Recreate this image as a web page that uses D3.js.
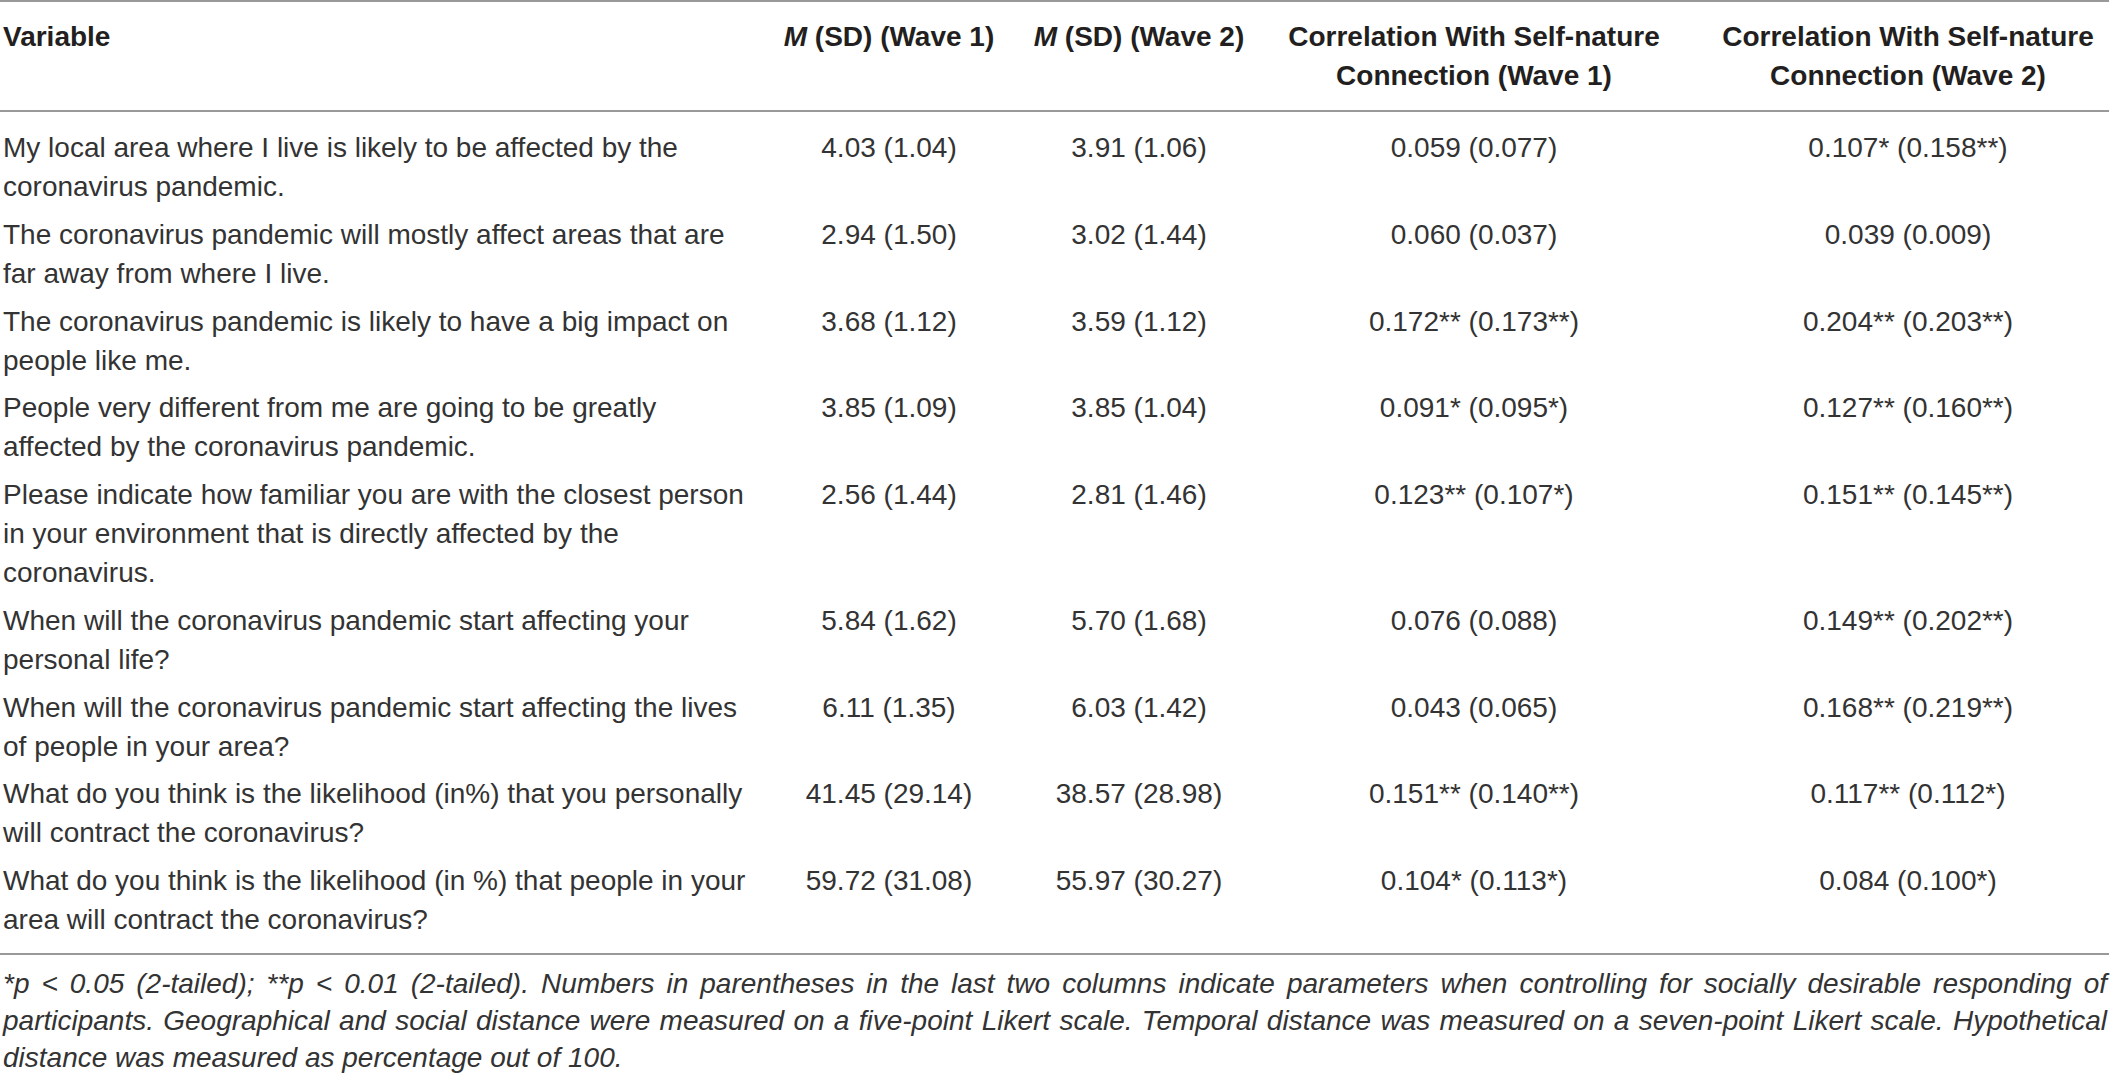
<!DOCTYPE html>
<html lang="en">
<head>
<meta charset="UTF-8">
<title>Psychological distance and self-nature connection</title>
<script src="https://d3js.org/d3.v7.min.js"></script>
<style>
  body { margin: 0; background: #fff; }
  svg { display: block; font-family: "Liberation Sans", Arial, Helvetica, sans-serif; }
  .cell { font-size: 28px; fill: #333; }
  .head { font-size: 28px; font-weight: bold; fill: #231f20; }
  .note { font-size: 28px; font-style: italic; fill: #333; }
  .rule { stroke: #999; stroke-width: 2; }
</style>
</head>
<body>
<svg id="chart"></svg>
<script>
const width = 2112;
const height = 1074;

// column headers (one array of lines per column)
const headers = [
  ["Variable"],
  ["M (SD) (Wave 1)"],
  ["M (SD) (Wave 2)"],
  ["Correlation With Self-nature", "Connection (Wave 1)"],
  ["Correlation With Self-nature", "Connection (Wave 2)"]
];

// item wording, as it wraps in the table
const variables = [
  ["My local area where I live is likely to be affected by the", "coronavirus pandemic."],
  ["The coronavirus pandemic will mostly affect areas that are", "far away from where I live."],
  ["The coronavirus pandemic is likely to have a big impact on", "people like me."],
  ["People very different from me are going to be greatly", "affected by the coronavirus pandemic."],
  ["Please indicate how familiar you are with the closest person", "in your environment that is directly affected by the", "coronavirus."],
  ["When will the coronavirus pandemic start affecting your", "personal life?"],
  ["When will the coronavirus pandemic start affecting the lives", "of people in your area?"],
  ["What do you think is the likelihood (in%) that you personally", "will contract the coronavirus?"],
  ["What do you think is the likelihood (in %) that people in your", "area will contract the coronavirus?"]
];

const mean1 = [4.03, 2.94, 3.68, 3.85, 2.56, 5.84, 6.11, 41.45, 59.72];
const sd1   = [1.04, 1.50, 1.12, 1.09, 1.44, 1.62, 1.35, 29.14, 31.08];
const mean2 = [3.91, 3.02, 3.59, 3.85, 2.81, 5.70, 6.03, 38.57, 55.97];
const sd2   = [1.06, 1.44, 1.12, 1.04, 1.46, 1.68, 1.42, 28.98, 30.27];

// correlations, raw and controlled for socially desirable responding
const r1      = [0.059, 0.060, 0.172, 0.091, 0.123, 0.076, 0.043, 0.151, 0.104];
const r1Stars = ["", "", "**", "*", "**", "", "", "**", "*"];
const r1c     = [0.077, 0.037, 0.173, 0.095, 0.107, 0.088, 0.065, 0.140, 0.113];
const r1cStars = ["", "", "**", "*", "*", "", "", "**", "*"];
const r2      = [0.107, 0.039, 0.204, 0.127, 0.151, 0.149, 0.168, 0.117, 0.084];
const r2Stars = ["*", "", "**", "**", "**", "**", "**", "**", ""];
const r2c     = [0.158, 0.009, 0.203, 0.160, 0.145, 0.202, 0.219, 0.112, 0.100];
const r2cStars = ["**", "", "**", "**", "**", "**", "**", "*", "*"];

const footnote = [
  "*p < 0.05 (2-tailed); **p < 0.01 (2-tailed). Numbers in parentheses in the last two columns indicate parameters when controlling for socially desirable responding of",
  "participants. Geographical and social distance were measured on a five-point Likert scale. Temporal distance was measured on a seven-point Likert scale. Hypothetical",
  "distance was measured as percentage out of 100."
];

const f2 = d3.format(".2f");
const f3 = d3.format(".3f");

const rows = variables.map((lines, i) => ({
  lines,
  m1: `${f2(mean1[i])} (${f2(sd1[i])})`,
  m2: `${f2(mean2[i])} (${f2(sd2[i])})`,
  c1: `${f3(r1[i])}${r1Stars[i]} (${f3(r1c[i])}${r1cStars[i]})`,
  c2: `${f3(r2[i])}${r2Stars[i]} (${f3(r2c[i])}${r2cStars[i]})`
}));

const columns = ["variable", "m1", "m2", "c1", "c2"];
const x = d3.scaleOrdinal()
  .domain(columns)
  .range([3, 889, 1139, 1474, 1908]);

const lineH = 39;
const rowPad = 8.75;
const headRule = 111;

// row tops from cumulative line counts
const cumLines = [0, ...d3.cumsum(rows, d => d.lines.length)];
rows.forEach((d, i) => { d.top = headRule + i * rowPad + cumLines[i] * lineH; });
const baseline = (top, k) => top + 7 + lineH * (k + 1);

const last = rows[rows.length - 1];
const bottomRule = baseline(last.top, last.lines.length - 1) + 25;

const svg = d3.select("#chart")
  .attr("width", width)
  .attr("height", height);

svg.append("rect").attr("width", width).attr("height", height).attr("fill", "#fff");

// rules
svg.selectAll("line.rule")
  .data([1, headRule, bottomRule])
  .enter().append("line")
    .attr("class", "rule")
    .attr("x1", 0).attr("x2", width - 3)
    .attr("y1", d => d).attr("y2", d => d);

// header
headers.forEach((lines, c) => {
  const t = svg.append("text")
    .attr("class", "head")
    .attr("text-anchor", c === 0 ? "start" : "middle");
  lines.forEach((ln, k) => {
    const tl = t.append("tspan")
      .attr("x", x(columns[c]))
      .attr("y", 46 + lineH * k);
    const m = ln.match(/^M (.*)$/);
    if (m) {
      tl.append("tspan").attr("font-style", "italic").text("M");
      tl.append("tspan").text(" " + m[1]);
    } else {
      tl.text(ln);
    }
  });
});

// body rows
const row = svg.selectAll("g.row")
  .data(rows)
  .enter().append("g")
    .attr("class", "row");

row.append("text")
  .attr("class", "cell")
  .selectAll("tspan")
  .data(d => d.lines.map((ln, k) => ({ ln, y: baseline(d.top, k) })))
  .enter().append("tspan")
    .attr("x", x("variable"))
    .attr("y", d => d.y)
    .text(d => d.ln);

["m1", "m2", "c1", "c2"].forEach(key => {
  row.append("text")
    .attr("class", "cell")
    .attr("text-anchor", "middle")
    .attr("x", x(key))
    .attr("y", d => baseline(d.top, 0))
    .text(d => d[key]);
});

// footnote, justified except the last line
const noteW = width - 8;
svg.selectAll("text.note")
  .data(footnote)
  .enter().append("text")
    .attr("class", "note")
    .attr("x", 3)
    .attr("y", (d, i) => bottomRule + 39 + 37 * i)
    .text(d => d)
    .each(function(d, i) {
      if (i === footnote.length - 1) return;
      const natural = this.getComputedTextLength();
      const gaps = d.split(" ").length - 1;
      d3.select(this).attr("word-spacing", (noteW - natural) / gaps);
    });
</script>
</body>
</html>
